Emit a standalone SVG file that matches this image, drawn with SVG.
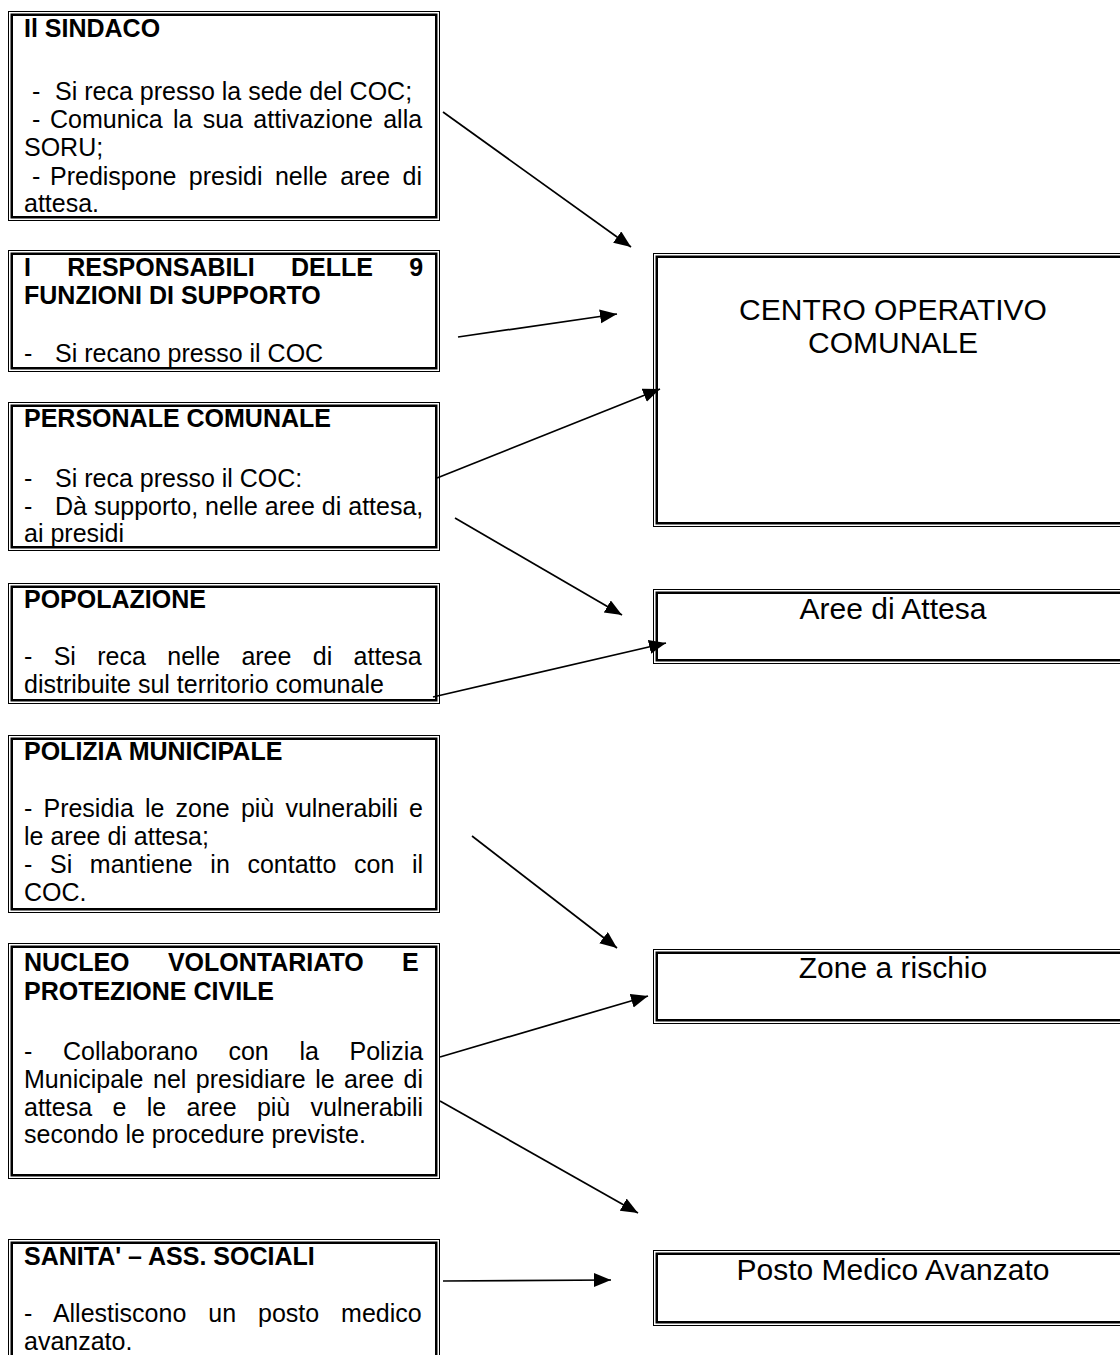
<svg xmlns="http://www.w3.org/2000/svg" width="1120" height="1355" viewBox="0 0 1120 1355">
<style>
.ob{fill:none;stroke:#000;stroke-width:1}
.ib{fill:none;stroke:#000;stroke-width:2.5}
.t{font-family:"Liberation Sans",Arial,sans-serif;font-size:25px;fill:#000}
.b{font-weight:bold}
.r{font-family:"Liberation Sans",Arial,sans-serif;font-size:30px;fill:#000;text-anchor:middle}
.c{stroke:#000;stroke-width:1.7;fill:none;marker-end:url(#ah)}
</style>
<defs>
<marker id="ah" markerUnits="userSpaceOnUse" markerWidth="20" markerHeight="16" refX="17" refY="7" orient="auto">
<path d="M0,0 L17,7 L0,14 z" fill="#000"/>
</marker>
</defs>
<rect x="0" y="0" width="1120" height="1355" fill="#fff"/>

<g id="sindaco">
<rect class="ob" x="8.5" y="11.5" width="431" height="209"/>
<rect class="ib" x="11.75" y="14.75" width="424.5" height="202.5"/>
<text class="t b" x="24" y="37">Il SINDACO</text>
<text class="t" y="100"><tspan x="32">-</tspan><tspan x="55">Si reca presso la sede del COC;</tspan></text>
<text class="t" y="128"><tspan x="32">-</tspan><tspan x="50" style="word-spacing:3.4px">Comunica la sua attivazione alla</tspan></text>
<text class="t" x="24" y="156">SORU;</text>
<text class="t" y="185"><tspan x="32">-</tspan><tspan x="50" style="word-spacing:5.45px">Predispone presidi nelle aree di</tspan></text>
<text class="t" x="24" y="212">attesa.</text>
</g>

<g id="responsabili">
<rect class="ob" x="8.5" y="250.5" width="431" height="121"/>
<rect class="ib" x="11.75" y="253.75" width="424.5" height="114.5"/>
<text class="t b" x="24" y="276" style="word-spacing:29.3px">I RESPONSABILI DELLE 9</text>
<text class="t b" x="24" y="304">FUNZIONI DI SUPPORTO</text>
<text class="t" y="362"><tspan x="24">-</tspan><tspan x="55">Si recano presso il COC</tspan></text>
</g>

<g id="personale">
<rect class="ob" x="8.5" y="402.5" width="431" height="148"/>
<rect class="ib" x="11.75" y="405.75" width="424.5" height="141.5"/>
<text class="t b" x="24" y="427">PERSONALE COMUNALE</text>
<text class="t" y="487"><tspan x="24">-</tspan><tspan x="55">Si reca presso il COC:</tspan></text>
<text class="t" y="515"><tspan x="24">-</tspan><tspan x="55">Dà supporto, nelle aree di attesa,</tspan></text>
<text class="t" x="24" y="542">ai presidi</text>
</g>

<g id="popolazione">
<rect class="ob" x="8.5" y="583.5" width="431" height="120"/>
<rect class="ib" x="11.75" y="586.75" width="424.5" height="113.5"/>
<text class="t b" x="24" y="608">POPOLAZIONE</text>
<text class="t" x="24" y="665" style="word-spacing:14.4px">- Si reca nelle aree di attesa</text>
<text class="t" x="24" y="693">distribuite sul territorio comunale</text>
</g>

<g id="polizia">
<rect class="ob" x="8.5" y="735.5" width="431" height="177"/>
<rect class="ib" x="11.75" y="738.75" width="424.5" height="170.5"/>
<text class="t b" x="24" y="760">POLIZIA MUNICIPALE</text>
<text class="t" x="24" y="817" style="word-spacing:4.2px">- Presidia le zone più vulnerabili e</text>
<text class="t" x="24" y="845">le aree di attesa;</text>
<text class="t" x="24" y="873" style="word-spacing:10.7px">- Si mantiene in contatto con il</text>
<text class="t" x="24" y="901">COC.</text>
</g>

<g id="nucleo">
<rect class="ob" x="8.5" y="943.5" width="431" height="235"/>
<rect class="ib" x="11.75" y="946.75" width="424.5" height="228.5"/>
<text class="t b" x="24" y="971" style="word-spacing:31.4px">NUCLEO VOLONTARIATO E</text>
<text class="t b" x="24" y="1000">PROTEZIONE CIVILE</text>
<text class="t" x="24" y="1060" style="word-spacing:23.7px">- Collaborano con la Polizia</text>
<text class="t" x="24" y="1088" style="word-spacing:2.55px">Municipale nel presidiare le aree di</text>
<text class="t" x="24" y="1116" style="word-spacing:13.4px">attesa e le aree più vulnerabili</text>
<text class="t" x="24" y="1143">secondo le procedure previste.</text>
</g>

<g id="sanita">
<rect class="ob" x="8.5" y="1239.5" width="431" height="140"/>
<rect class="ib" x="11.75" y="1242.75" width="424.5" height="140"/>
<text class="t b" x="24" y="1265">SANITA' – ASS. SOCIALI</text>
<text class="t" x="24" y="1322" style="word-spacing:15px">- Allestiscono un posto medico</text>
<text class="t" x="24" y="1350">avanzato.</text>
</g>

<g id="coc">
<rect class="ob" x="653.5" y="253.5" width="480" height="273"/>
<rect class="ib" x="656.75" y="256.75" width="480" height="266.5"/>
<text class="r" x="893" y="320">CENTRO OPERATIVO</text>
<text class="r" x="893" y="353">COMUNALE</text>
</g>

<g id="aree">
<rect class="ob" x="653.5" y="589.5" width="480" height="74"/>
<rect class="ib" x="656.75" y="592.75" width="480" height="67.5"/>
<text class="r" x="893" y="619">Aree di Attesa</text>
</g>

<g id="zone">
<rect class="ob" x="653.5" y="949.5" width="480" height="74"/>
<rect class="ib" x="656.75" y="952.75" width="480" height="67.5"/>
<text class="r" x="893" y="978">Zone a rischio</text>
</g>

<g id="posto">
<rect class="ob" x="653.5" y="1250.5" width="480" height="75"/>
<rect class="ib" x="656.75" y="1253.75" width="480" height="68.5"/>
<text class="r" x="893" y="1280">Posto Medico Avanzato</text>
</g>

<g id="connectors">
<line class="c" x1="443" y1="112" x2="631" y2="247"/>
<line class="c" x1="458" y1="337" x2="617" y2="314"/>
<line class="c" x1="437" y1="478" x2="660" y2="389"/>
<line class="c" x1="455" y1="518" x2="622" y2="615"/>
<line class="c" x1="433" y1="697" x2="666" y2="643"/>
<line class="c" x1="472" y1="836" x2="617" y2="948"/>
<line class="c" x1="440" y1="1057" x2="648" y2="996"/>
<line class="c" x1="440" y1="1101" x2="638" y2="1213"/>
<line class="c" x1="443" y1="1281" x2="611" y2="1280"/>
</g>
</svg>
